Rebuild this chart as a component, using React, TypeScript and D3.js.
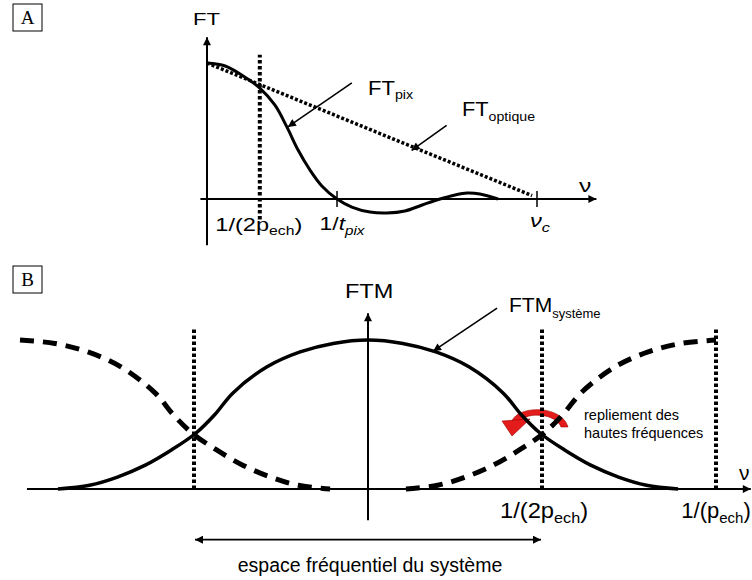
import * as d3 from "d3";

// ---------- panel A : FT pixel / FT optique (nu in units of nu_c) ----------
const ftPixNu = [0, 0.055, 0.106, 0.16, 0.206, 0.242, 0.276, 0.312, 0.348, 0.394, 0.439, 0.494, 0.545, 0.6, 0.652, 0.706, 0.752, 0.788, 0.827, 0.882];
const ftPixValues = [1.0, 0.978, 0.91, 0.816, 0.69, 0.53, 0.36, 0.213, 0.096, 0, -0.059, -0.096, -0.103, -0.088, -0.044, 0, 0.03, 0.044, 0.037, 0];
const ftOptiqueNu = [0, 0.985];
const ftOptiqueValues = [1, 0.025];
const aTickNu = [0.16, 0.394, 1]; // 1/(2p_ech), 1/t_pix, nu_c

// ---------- panel B : FTM systeme (nu in units of 1/p_ech) ----------
const ftmNu = [-0.891, -0.8, -0.72, -0.64, -0.565, -0.494, -0.44, -0.388, -0.29, -0.195, -0.1, 0, 0.1, 0.195, 0.29, 0.388, 0.44, 0.494, 0.565, 0.64, 0.72, 0.8, 0.891];
const ftmValues = [0, 0.025, 0.08, 0.16, 0.262, 0.376, 0.5, 0.645, 0.82, 0.92, 0.977, 1, 0.977, 0.92, 0.82, 0.645, 0.5, 0.376, 0.262, 0.16, 0.08, 0.025, 0];
const bTickNu = [-0.5, 0.5, 1]; // -1/(2p_ech), 1/(2p_ech), 1/p_ech
const aliasShift = 1; // replicas of the spectrum at +/- 1/p_ech

const SANS = "'Liberation Sans', Arial, sans-serif";
const SERIF = "'Liberation Serif', 'Times New Roman', serif";

const xA = d3.scaleLinear().domain([0, 1]).range([207, 537]);
const yA = d3.scaleLinear().domain([0, 1]).range([199, 63]);
const xB = d3.scaleLinear().domain([0, 1]).range([368, 716]);
const yB = d3.scaleLinear().domain([0, 1]).range([489, 340]);

type P = [number, number];

function Lbl({ x, y, sx = 1, size, anchor = "start", italic = false, children }: any) {
  return (
    <g transform={`translate(${x},${y}) scale(${sx},1)`}>
      <text textAnchor={anchor} fontSize={size} fontFamily={SANS} fontStyle={italic ? "italic" : "normal"}>
        {children}
      </text>
    </g>
  );
}

function Pointer({ x1, y1, x2, y2 }: any) {
  return <line x1={x1} y1={y1} x2={x2} y2={y2} stroke="#000" strokeWidth={1.6} markerEnd="url(#ptr)" />;
}

export default function App() {
  const lineA = d3.line<P>().x(d => xA(d[0])).y(d => yA(d[1])).curve(d3.curveCatmullRom.alpha(0.5));
  const lineB = d3.line<P>().x(d => xB(d[0])).y(d => yB(d[1])).curve(d3.curveCatmullRom.alpha(0.5));

  const ftPix: P[] = ftPixNu.map((n, i) => [n, ftPixValues[i]]);
  const ftOpt: P[] = ftOptiqueNu.map((n, i) => [n, ftOptiqueValues[i]]);
  const ftm: P[] = ftmNu.map((n, i) => [n, ftmValues[i]]);
  const aliasLeft: P[] = ftm.filter(d => d[0] >= 0).map(d => [d[0] - aliasShift, d[1]]);
  const aliasRight: P[] = ftm.filter(d => d[0] <= 0).map(d => [d[0] + aliasShift, d[1]]);

  // pointer targets
  const pixTip = [xA(ftPixNu[5]), yA(ftPixValues[5])];
  const optNu = 0.62;
  const optTip = [xA(optNu), yA(d3.interpolateNumber(ftOptiqueValues[0], ftOptiqueValues[1])(optNu / ftOptiqueNu[1])) + 4];
  const ftmTip = [xB(0.187), yB(0.925)];
  const cross = [xB(0.5), yB(0.376)];

  return (
    <svg width={752} height={580} style={{ position: "absolute", left: 0, top: 0, background: "#fff" }}>
      <defs>
        <marker id="ax" viewBox="0 0 10 10" refX={10} refY={5} markerWidth={9} markerHeight={8} markerUnits="userSpaceOnUse" orient="auto">
          <path d="M0,0 L10,5 L0,10 z" fill="#000" />
        </marker>
        <marker id="ptr" viewBox="0 0 10 10" refX={10} refY={5} markerWidth={10} markerHeight={8} markerUnits="userSpaceOnUse" orient="auto">
          <path d="M0,0 L10,5 L0,10 z" fill="#000" />
        </marker>
        <marker id="ptrS" viewBox="0 0 10 10" refX={0} refY={5} markerWidth={10} markerHeight={8} markerUnits="userSpaceOnUse" orient="auto">
          <path d="M10,0 L0,5 L10,10 z" fill="#000" />
        </marker>
      </defs>

      {/* ================= Panel A ================= */}
      <rect x={13} y={4} width={29} height={27} fill="none" stroke="#000" strokeWidth={1} />
      <text x={27.5} y={24} textAnchor="middle" fontSize={19} fontFamily={SERIF}>A</text>

      <line x1={xA(-0.02)} y1={yA(0)} x2={xA(1.18)} y2={yA(0)} stroke="#000" strokeWidth={2} markerEnd="url(#ax)" />
      <line x1={xA(0)} y1={yA(-0.34)} x2={xA(0)} y2={yA(1.19)} stroke="#000" strokeWidth={2} markerEnd="url(#ax)" />
      {aTickNu.slice(1).map((n, i) => (
        <line key={i} x1={xA(n)} x2={xA(n)} y1={yA(0) - 8} y2={yA(0) + 8} stroke="#000" strokeWidth={1.5} />
      ))}
      <line x1={xA(aTickNu[0])} x2={xA(aTickNu[0])} y1={yA(-0.15)} y2={yA(1.06)} stroke="#000" strokeWidth={4} strokeDasharray="3.5 2.5" />

      <path d={lineA(ftOpt) || ""} fill="none" stroke="#000" strokeWidth={3.5} strokeDasharray="3 2" />
      <path d={lineA(ftPix) || ""} fill="none" stroke="#000" strokeWidth={3} />

      <Pointer x1={pixTip[0] + 65} y1={pixTip[1] - 44} x2={pixTip[0] + 1} y2={pixTip[1]} />
      <Pointer x1={optTip[0] + 35} y1={optTip[1] - 25} x2={optTip[0]} y2={optTip[1]} />

      <Lbl x={193} y={25} size={16} sx={1.38}>FT</Lbl>
      <Lbl x={579} y={192} size={19} sx={1.3}>ν</Lbl>
      <Lbl x={xA(aTickNu[0]) - 1} y={231} size={18} sx={1.31} anchor="middle">
        1/(2p<tspan fontSize={12} dy={4}>ech</tspan><tspan fontSize={18} dy={-4}>)</tspan>
      </Lbl>
      <Lbl x={xA(aTickNu[1]) + 5} y={230} size={18} sx={1.27} anchor="middle">
        1/<tspan fontStyle="italic">t</tspan><tspan fontStyle="italic" fontSize={12} dy={5}>pix</tspan>
      </Lbl>
      <Lbl x={xA(aTickNu[2]) + 3} y={227} size={19} sx={1.25} anchor="middle" italic>
        ν<tspan fontSize={13} dy={5}>c</tspan>
      </Lbl>
      <Lbl x={368} y={95} size={20} sx={1.1}>
        FT<tspan fontSize={13} dy={4}>pix</tspan>
      </Lbl>
      <Lbl x={462} y={116} size={20} sx={1.09}>
        FT<tspan fontSize={13} dy={5}>optique</tspan>
      </Lbl>

      {/* ================= Panel B ================= */}
      <rect x={13} y={266} width={29} height={27} fill="none" stroke="#000" strokeWidth={1} />
      <text x={27.5} y={286} textAnchor="middle" fontSize={19} fontFamily={SERIF}>B</text>

      <line x1={xB(-0.98)} y1={yB(0)} x2={xB(1.1)} y2={yB(0)} stroke="#000" strokeWidth={2} markerEnd="url(#ax)" />
      <line x1={xB(0)} y1={yB(-0.21)} x2={xB(0)} y2={yB(1.18)} stroke="#000" strokeWidth={2} markerEnd="url(#ax)" />

      {/* repliement arrow */}
      <g transform={`translate(${cross[0]},${cross[1]})`}>
        <path d="M -30 -12 C -24 -28, 20 -28, 26 -6 L 19 -6 C 14 -20, -16 -21, -21 -12 Z" fill="#e41b1b" stroke="#a00000" strokeWidth={0.6} />
        <path d="M -40 -12 L -12 -14 L -30 3 Z" fill="#e41b1b" stroke="#a00000" strokeWidth={0.6} />
      </g>

      {bTickNu.map((n, i) => (
        <line key={i} x1={xB(n)} x2={xB(n)} y1={yB(0)} y2={yB(1.07)} stroke="#000" strokeWidth={4} strokeDasharray="3.5 2.5" />
      ))}

      <path d={lineB(aliasLeft) || ""} fill="none" stroke="#000" strokeWidth={5} strokeDasharray="14 9" />
      <path d={lineB(aliasRight) || ""} fill="none" stroke="#000" strokeWidth={5} strokeDasharray="14 9" />
      <path d={lineB(ftm) || ""} fill="none" stroke="#000" strokeWidth={3.5} />

      <Pointer x1={ftmTip[0] + 64} y1={ftmTip[1] - 43} x2={ftmTip[0]} y2={ftmTip[1]} />

      <line x1={xB(bTickNu[0]) + 1} x2={xB(bTickNu[1]) - 1} y1={yB(-0.34)} y2={yB(-0.34)} stroke="#000" strokeWidth={1.6} markerStart="url(#ptrS)" markerEnd="url(#ptr)" />

      <Lbl x={345} y={298} size={21} sx={1.12}>FTM</Lbl>
      <Lbl x={739} y={480} size={20} sx={1.05}>ν</Lbl>
      <Lbl x={xB(bTickNu[1]) + 2} y={518} size={22} sx={1.08} anchor="middle">
        1/(2p<tspan fontSize={15} dy={5}>ech</tspan><tspan fontSize={22} dy={-5}>)</tspan>
      </Lbl>
      <Lbl x={xB(bTickNu[2])} y={518} size={22} sx={1.0} anchor="middle">
        1/(p<tspan fontSize={15} dy={5}>ech</tspan><tspan fontSize={22} dy={-5}>)</tspan>
      </Lbl>
      <Lbl x={509} y={312} size={21}>
        FTM<tspan fontSize={13} dy={6}>système</tspan>
      </Lbl>
      <Lbl x={584} y={420} size={14.5}>repliement des</Lbl>
      <Lbl x={584} y={438} size={14.5}>hautes fréquences</Lbl>
      <Lbl x={370} y={572} size={19.5} anchor="middle">espace fréquentiel du système</Lbl>
    </svg>
  );
}
